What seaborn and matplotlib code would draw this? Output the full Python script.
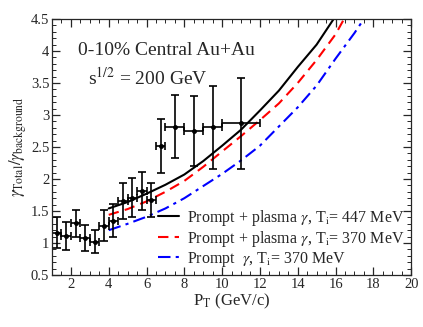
import numpy as np
import pandas as pd
import seaborn as sns
import matplotlib.pyplot as plt
from matplotlib.ticker import MultipleLocator

# measured ratio (data points with error bars)
pt = [1.25, 1.75, 2.25, 2.75, 3.25, 3.75, 4.25, 4.75, 5.25, 5.75, 6.25, 6.75, 7.5, 8.5, 9.5, 11.0]
pt_err = [0.25, 0.25, 0.25, 0.25, 0.25, 0.25, 0.25, 0.25, 0.25, 0.25, 0.25, 0.25, 0.5, 0.5, 0.5, 1.0]
ratio = [1.16, 1.11, 1.31, 1.08, 1.02, 1.27, 1.35, 1.65, 1.71, 1.81, 1.67, 2.52, 2.82, 2.75, 2.81, 2.87]
ratio_err = [0.24, 0.22, 0.21, 0.20, 0.18, 0.24, 0.26, 0.28, 0.30, 0.30, 0.27, 0.42, 0.49, 0.55, 0.65, 0.71]

# theory curves
pt_447 = [4, 5, 6, 7, 8, 9, 10, 11, 12, 13, 14, 15, 15.9]
ratio_447 = [1.54, 1.64, 1.77, 1.91, 2.07, 2.28, 2.52, 2.77, 3.07, 3.38, 3.75, 4.10, 4.5]
pt_370 = [4, 5, 6, 7, 8, 9, 10, 11, 12, 13, 14, 15, 16, 16.45]
ratio_370 = [1.44, 1.53, 1.65, 1.80, 1.97, 2.19, 2.43, 2.67, 2.92, 3.18, 3.50, 3.86, 4.26, 4.5]
pt_prompt = [4, 5, 6, 7, 8, 9, 10, 11, 12, 13, 14, 15, 16, 17, 17.5]
ratio_prompt = [1.20, 1.30, 1.41, 1.54, 1.70, 1.89, 2.08, 2.29, 2.52, 2.82, 3.12, 3.46, 3.88, 4.28, 4.5]

sns.set_style("ticks")
plt.rcParams['font.family'] = ['Liberation Serif', 'DejaVu Serif']
plt.rcParams['mathtext.fontset'] = 'stix'

fig = plt.figure(figsize=(4.23, 3.27), dpi=100)
ax = fig.add_axes([0.123, 0.159, 0.849, 0.783])

sns.lineplot(x=pt_447, y=ratio_447, ax=ax, color='black', lw=1.5,
             label=r'Prompt + plasma $\gamma$, T$_{\rm i}$= 447 MeV')
sns.lineplot(x=pt_370, y=ratio_370, ax=ax, color='red', lw=1.5,
             label=r'Prompt + plasma $\gamma$, T$_{\rm i}$= 370 MeV')
sns.lineplot(x=pt_prompt, y=ratio_prompt, ax=ax, color='blue', lw=1.5,
             label=r'Prompt  $\gamma$, T$_{\rm i}$= 370 MeV')
ax.lines[1].set_linestyle((0, (5, 3)))
ax.lines[2].set_linestyle((0, (6, 2.5, 1.5, 2.5)))

ax.errorbar(pt, ratio, xerr=pt_err, yerr=ratio_err, fmt='o', color='black',
            ms=2.5, elinewidth=1.2, capsize=3, capthick=1.2)

ax.set_xlim(1, 20)
ax.set_ylim(0.5, 4.5)
ax.xaxis.set_major_locator(MultipleLocator(2))
ax.xaxis.set_minor_locator(MultipleLocator(0.5))
ax.yaxis.set_minor_locator(MultipleLocator(0.1))
ax.set_yticks(np.arange(0.5, 4.51, 0.5))
ax.set_yticklabels(['0.5', '1', '1.5', '2', '2.5', '3', '3.5', '4', '4.5'])
ax.tick_params(which='both', direction='in', top=True, right=True, labelsize=10.5, pad=2)
ax.tick_params(which='major', length=6, width=0.9)
ax.tick_params(which='minor', length=3, width=0.7)
for s in ax.spines.values():
    s.set_linewidth(0.9)

ax.set_xlabel(r'P$_{\rm T}$ (GeV/c)', fontsize=12, labelpad=1)
ax.set_ylabel(r'$\gamma_{\rm Total}/\gamma_{\rm background}$', fontsize=12, labelpad=1)

ax.text(2.4, 3.94, '0-10% Central Au+Au', fontsize=14)
ax.text(2.9, 3.47, r's$^{1/2}$ = 200 GeV', fontsize=14)

ax.legend(loc='lower right', frameon=False, fontsize=11.5, handlelength=1.3,
          handletextpad=0.5, labelspacing=0.05, borderaxespad=0.0,
          bbox_to_anchor=(1.0, 0.0))

plt.savefig('out.png', dpi=100)
